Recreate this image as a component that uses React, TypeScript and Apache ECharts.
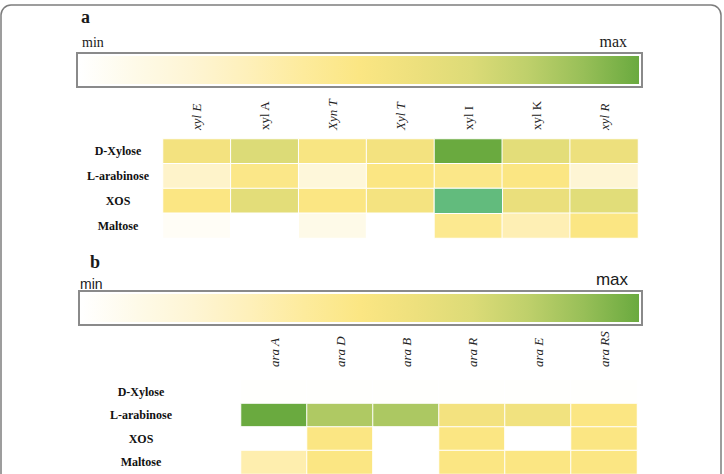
import React, { useEffect, useRef } from "react";
import * as echarts from "echarts";

// ---- data ----
const sugars = ["D-Xylose", "L-arabinose", "XOS", "Maltose"];

const genesA = ["xyl E", "xyl A", "Xyn T", "Xyl T", "xyl I", "xyl K", "xyl R"];
const italicGenesA = ["xyl E", "Xyn T", "Xyl T", "xyl R"];
const aDXylose = [0.56, 0.7, 0.52, 0.56, 1.0, 0.66, 0.6];
const aLArabinose = [0.24, 0.48, 0.17, 0.5, 0.48, 0.5, 0.2];
const aXOS = [0.5, 0.66, 0.5, 0.55, 0.95, 0.62, 0.67];
const aMaltose = [0.04, 0, 0.1, 0, 0.45, 0.32, 0.5];
const specialCellA = { gene: "xyl I", sugar: "XOS", color: "#62bb7d" };

const genesB = ["ara A", "ara D", "ara B", "ara R", "ara E", "ara RS"];
const bDXylose = [0.01, 0.01, 0.01, 0.01, 0.01, 0.01];
const bLArabinose = [1.0, 0.84, 0.85, 0.56, 0.57, 0.5];
const bXOS = [0, 0.5, 0, 0.5, 0, 0.5];
const bMaltose = [0.34, 0.5, 0, 0.5, 0.5, 0.5];

const scaleColors = [
  "#ffffff",
  "#fefae8",
  "#fef5d4",
  "#fef0ba",
  "#fdeb9c",
  "#fbe683",
  "#ede07d",
  "#dcdb77",
  "#bfd06b",
  "#98bf58",
  "#6aaa3f",
];

const rowsA = [aDXylose, aLArabinose, aXOS, aMaltose];
const rowsB = [bDXylose, bLArabinose, bXOS, bMaltose];

function toCells(rows: number[][]) {
  const out: number[][] = [];
  rows.forEach((row, yi) => row.forEach((v, xi) => out.push([xi, yi, v])));
  return out;
}

const SERIF = "'Liberation Serif', 'Times New Roman', serif";
const SANS = "'Liberation Sans', Arial, sans-serif";

function colorBar(x: number, y: number, w: number, h: number) {
  return [
    {
      type: "rect",
      shape: { x, y, width: w, height: h },
      style: { fill: "#ffffff", stroke: "#8a8a8a", lineWidth: 2 },
      z: 10,
    },
    {
      type: "rect",
      shape: { x: x + 3, y: y + 3, width: w - 6, height: h - 6 },
      style: {
        fill: new echarts.graphic.LinearGradient(
          0,
          0,
          1,
          0,
          scaleColors.map((c, i) => ({ offset: i / (scaleColors.length - 1), color: c }))
        ),
      },
      z: 11,
    },
  ];
}

function txt(text: string, x: number, y: number, font: string, align = "left") {
  return {
    type: "text",
    x,
    y,
    z: 12,
    style: { text, font, fill: "#1a1a1a", align, verticalAlign: "middle" },
  };
}

export default function App() {
  const ref = useRef<HTMLDivElement>(null);

  useEffect(() => {
    if (!ref.current) return;
    const chart = echarts.init(ref.current, undefined, { renderer: "svg" });

    const rowLabel = {
      fontFamily: SERIF,
      fontWeight: "bold" as const,
      fontSize: 12,
      color: "#111",
      align: "center" as const,
    };

    const sx = genesA.indexOf(specialCellA.gene);
    const sy = sugars.indexOf(specialCellA.sugar);

    const option: any = {
      animation: false,
      backgroundColor: "#ffffff",
      grid: [
        { left: 163, top: 139, width: 475, height: 99 },
        { left: 241, top: 380, width: 396, height: 100 },
      ],
      xAxis: [
        {
          type: "category",
          gridIndex: 0,
          position: "top",
          data: genesA,
          axisLine: { show: false },
          axisTick: { show: false },
          splitLine: { show: false },
          axisLabel: {
            rotate: -90,
            margin: 9,
            interval: 0,
            formatter: (v: string) => (italicGenesA.includes(v) ? `{i|${v}}` : `{n|${v}}`),
            rich: {
              i: { fontFamily: SERIF, fontStyle: "italic", fontSize: 13, color: "#222" },
              n: { fontFamily: SERIF, fontSize: 13, color: "#222" },
            },
          },
        },
        {
          type: "category",
          gridIndex: 1,
          position: "top",
          data: genesB,
          axisLine: { show: false },
          axisTick: { show: false },
          splitLine: { show: false },
          axisLabel: {
            rotate: -90,
            margin: 13,
            interval: 0,
            fontFamily: SERIF,
            fontStyle: "italic",
            fontSize: 13,
            color: "#222",
          },
        },
      ],
      yAxis: [
        {
          type: "category",
          gridIndex: 0,
          inverse: true,
          data: sugars,
          axisLine: { show: false },
          axisTick: { show: false },
          splitLine: { show: false },
          axisLabel: { ...rowLabel, margin: 45 },
        },
        {
          type: "category",
          gridIndex: 1,
          inverse: true,
          data: sugars,
          axisLine: { show: false },
          axisTick: { show: false },
          splitLine: { show: false },
          axisLabel: { ...rowLabel, margin: 100 },
        },
      ],
      visualMap: [
        {
          show: false,
          type: "continuous",
          min: 0,
          max: 1,
          dimension: 2,
          seriesIndex: [0, 2],
          inRange: { color: scaleColors },
        },
        {
          show: false,
          type: "continuous",
          min: 0,
          max: 1,
          dimension: 2,
          seriesIndex: [1],
          inRange: { color: [specialCellA.color, specialCellA.color] },
        },
      ],
      series: [
        {
          type: "heatmap",
          xAxisIndex: 0,
          yAxisIndex: 0,
          data: toCells(rowsA),
          itemStyle: { borderColor: "#ffffff", borderWidth: 1 },
          emphasis: { disabled: true },
        },
        {
          type: "heatmap",
          xAxisIndex: 0,
          yAxisIndex: 0,
          data: [[sx, sy, rowsA[sy][sx]]],
          itemStyle: { borderColor: "#ffffff", borderWidth: 1 },
          emphasis: { disabled: true },
        },
        {
          type: "heatmap",
          xAxisIndex: 1,
          yAxisIndex: 1,
          data: toCells(rowsB),
          itemStyle: { borderColor: "#ffffff", borderWidth: 1 },
          emphasis: { disabled: true },
        },
      ],
      graphic: [
        {
          type: "rect",
          shape: { x: 1, y: 5, width: 720, height: 560, r: 10 },
          style: { fill: "none", stroke: "#7d7d7d", lineWidth: 1.5 },
          z: 1,
        },
        txt("a", 81, 17, `bold 18px ${SERIF}`),
        txt("min", 82, 42, `14px ${SERIF}`),
        txt("max", 627, 41, `16px ${SERIF}`, "right"),
        ...colorBar(77, 53, 565, 34),
        txt("b", 90, 262, `bold 18px ${SERIF}`),
        txt("min", 80, 284, `14px ${SANS}`),
        txt("max", 628, 279, `17px ${SANS}`, "right"),
        ...colorBar(79, 291, 563, 34),
      ],
    };

    chart.setOption(option);
    return () => chart.dispose();
  }, []);

  return (
    <div
      ref={ref}
      style={{ position: "fixed", left: 0, top: 0, width: 724, height: 474 }}
    />
  );
}
